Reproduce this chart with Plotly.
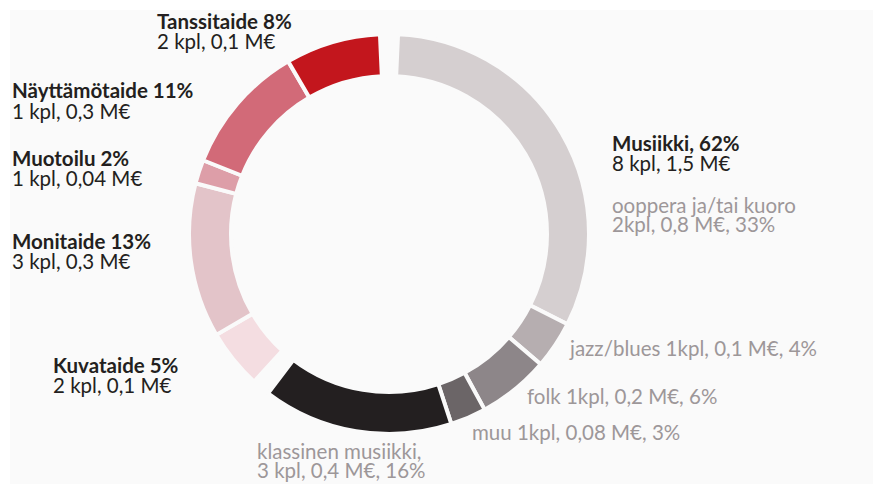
import plotly.graph_objects as go

# Data (clockwise from 12 o'clock)
categories = ["ooppera ja/tai kuoro", "jazz/blues", "folk", "muu", "klassinen musiikki",
              "Kuvataide", "Monitaide", "Muotoilu", "Näyttämötaide", "Tanssitaide"]
shares = [33, 4, 6, 3, 16, 5, 13, 2, 11, 8]
colors = ["#d5cfd0", "#b6aeb0", "#8d8689", "#6b6567", "#231f20",
          "#f4dde1", "#e3c4c9", "#dd9ea8", "#d26a78", "#c3161d"]

# Label texts
main_labels = [
    ("Tanssitaide 8%", "2 kpl, 0,1 M€"),
    ("Näyttämötaide 11%", "1 kpl, 0,3 M€"),
    ("Muotoilu 2%", "1 kpl, 0,04 M€"),
    ("Monitaide 13%", "3 kpl, 0,3 M€"),
    ("Kuvataide 5%", "2 kpl, 0,1 M€"),
    ("Musiikki, 62%", "8 kpl, 1,5 M€"),
]
sub_labels = [
    "ooppera ja/tai kuoro<br>2kpl, 0,8 M€, 33%",
    "jazz/blues 1kpl, 0,1 M€, 4%",
    "folk 1kpl, 0,2 M€, 6%",
    "muu 1kpl, 0,08 M€, 3%",
    "klassinen musiikki,<br>3 kpl, 0,4 M€, 16%",
]

W, H = 877, 484
GAP = 1.5  # visual gap between the music group and the other arts

values = shares[:5] + [GAP] + shares[5:] + [GAP]
slice_colors = colors[:5] + ["rgba(0,0,0,0)"] + colors[5:] + ["rgba(0,0,0,0)"]
names = categories[:5] + ["gap1"] + categories[5:] + ["gap2"]
line_colors = ["#fafafa"] * 5 + ["rgba(0,0,0,0)"] + ["#fafafa"] * 5 + ["rgba(0,0,0,0)"]

cx, cy, R = 389, 234, 200
fig = go.Figure(go.Pie(
    labels=names, values=values, sort=False, direction="clockwise",
    rotation=GAP / 2 / sum(values) * 360,
    hole=0.79, textinfo="none", hoverinfo="label+percent",
    marker=dict(colors=slice_colors, line=dict(color=line_colors, width=4)),
    domain=dict(x=[(cx - R) / W, (cx + R) / W], y=[1 - (cy + R) / H, 1 - (cy - R) / H]),
    showlegend=False,
))

def px(x):
    return x / W

def py(y):
    return 1 - y / H

ann = []
font_family = "Lato, 'Open Sans', sans-serif"
dark = "#231f20"
gray = "#9d9799"
FS = 20.5
OFF = 7
DX = -2

def add(x, b, text, color):
    ann.append(dict(x=px(x + DX), y=py(b - OFF), text=text, xanchor="left", yanchor="middle",
                    showarrow=False, font=dict(family=font_family, size=FS, color=color)))

# main labels: (x left, baseline of line 1, baseline of line 2)
main_pos = [(157, 28, 48), (12, 97, 118), (12, 165, 185), (12, 248, 268), (53, 372, 392), (612, 150, 170)]
for (t1, t2), (x, b1, b2) in zip(main_labels, main_pos):
    add(x, b1, "<b>" + t1 + "</b>", dark)
    add(x, b2, t2, dark)

sub_pos = [(612, 212, 231), (569, 355, None), (527, 403, None), (472, 439, None), (257, 458, 477)]
for txt, (x, b1, b2) in zip(sub_labels, sub_pos):
    parts = txt.split("<br>")
    add(x, b1, parts[0], gray)
    if b2 is not None:
        add(x, b2, parts[1], gray)

fig.update_layout(
    width=W, height=H,
    margin=dict(l=0, r=0, t=0, b=0),
    paper_bgcolor="#ffffff",
    annotations=ann,
    shapes=[dict(type="rect", xref="paper", yref="paper", x0=10 / W, x1=873 / W, y0=0, y1=1 - 10 / H,
                 fillcolor="#fafafa", line=dict(width=0), layer="below")],
)

fig.write_html("out.html", config={"displayModeBar": False},
               post_script="document.body.style.margin='0';document.body.style.overflow='hidden';")
